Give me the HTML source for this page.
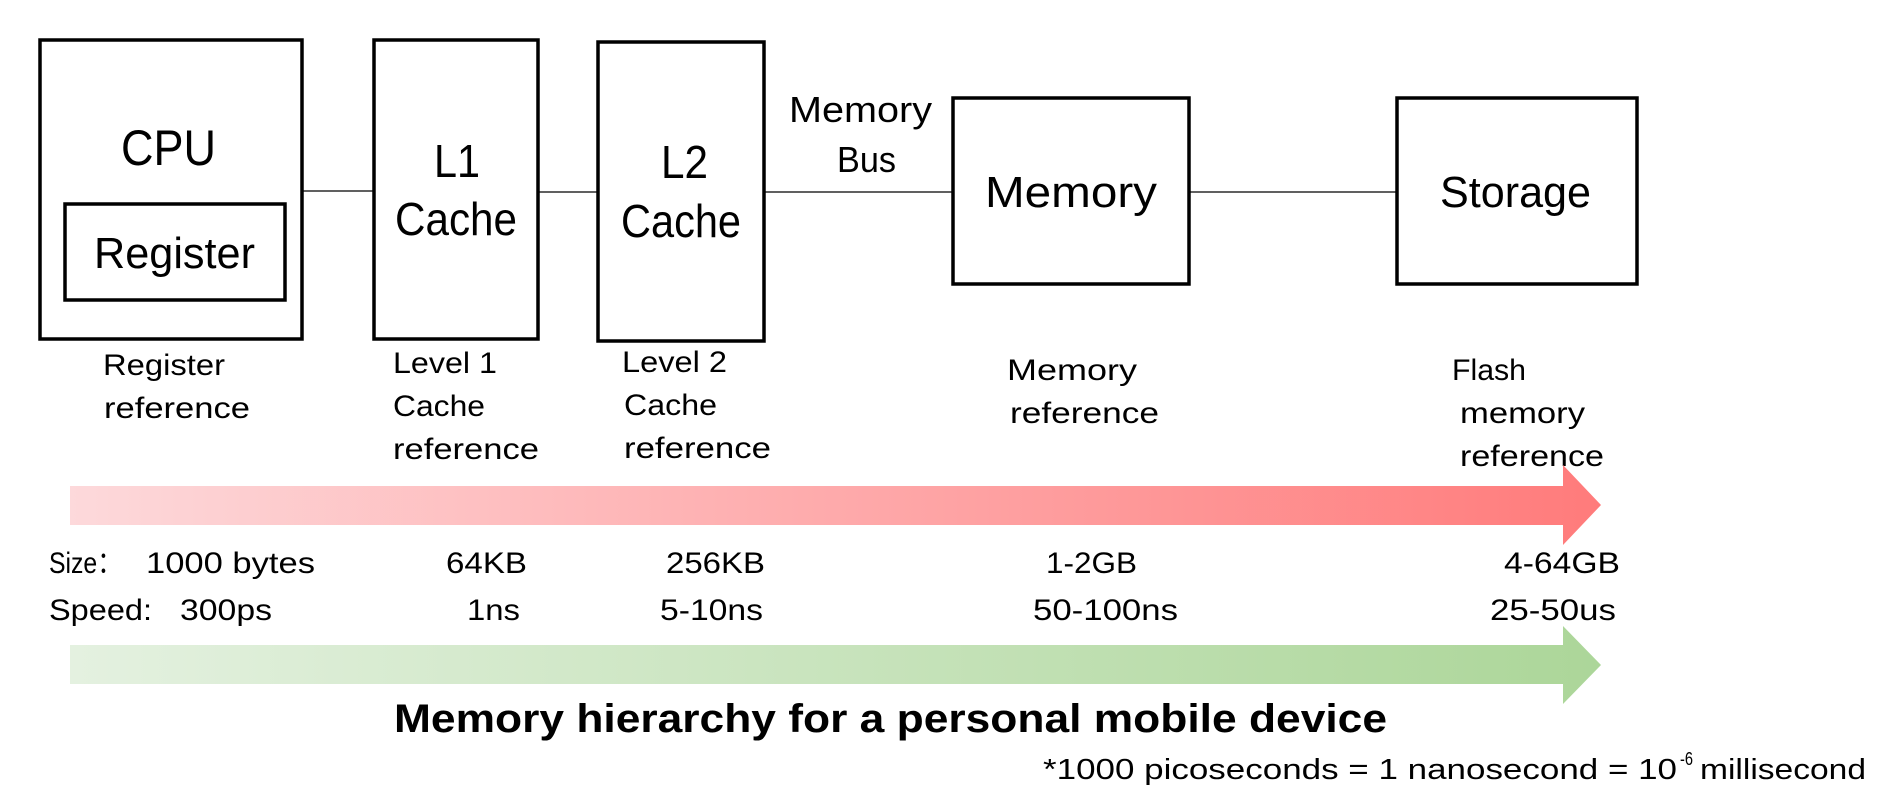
<!DOCTYPE html>
<html><head><meta charset="utf-8"><style>
html,body{margin:0;padding:0;background:#fff;}
svg{display:block;}
text{font-family:"Liberation Sans",Arial,sans-serif;fill:#000;}
</style></head><body>
<svg width="1904" height="800" viewBox="0 0 1904 800" xmlns="http://www.w3.org/2000/svg">
<defs>
<linearGradient id="r" x1="0" x2="1" y1="0" y2="0"><stop offset="0" stop-color="#fdd9db"/><stop offset="1" stop-color="#ff7b7b"/></linearGradient>
<linearGradient id="g" x1="0" x2="1" y1="0" y2="0"><stop offset="0" stop-color="#e4f1e0"/><stop offset="1" stop-color="#acd699"/></linearGradient>
</defs>
<g fill="none" stroke="#000" stroke-width="3.5">
<rect x="40" y="40" width="262" height="299"/>
<rect x="65" y="204" width="220" height="96"/>
<rect x="374" y="40" width="164" height="299"/>
<rect x="598" y="42" width="166" height="299"/>
<rect x="953" y="98" width="236" height="186"/>
<rect x="1397" y="98" width="240" height="186"/>
</g>
<g stroke="#000" stroke-width="1.3">
<line x1="302" y1="191" x2="374" y2="191"/>
<line x1="538" y1="192" x2="598" y2="192"/>
<line x1="764" y1="192" x2="953" y2="192"/>
<line x1="1189" y1="192" x2="1397" y2="192"/>
</g>
<text x="121" y="165" font-size="50" textLength="95" lengthAdjust="spacingAndGlyphs">CPU</text>
<text x="94" y="268" font-size="44" textLength="161" lengthAdjust="spacingAndGlyphs">Register</text>
<text x="434" y="177" font-size="46" textLength="46" lengthAdjust="spacingAndGlyphs">L1</text>
<text x="395" y="235" font-size="46" textLength="122" lengthAdjust="spacingAndGlyphs">Cache</text>
<text x="661" y="178" font-size="46" textLength="47" lengthAdjust="spacingAndGlyphs">L2</text>
<text x="621" y="237" font-size="46" textLength="120" lengthAdjust="spacingAndGlyphs">Cache</text>
<text x="789" y="122" font-size="36" textLength="143" lengthAdjust="spacingAndGlyphs">Memory</text>
<text x="837" y="172" font-size="36" textLength="59" lengthAdjust="spacingAndGlyphs">Bus</text>
<text x="985" y="207" font-size="44" textLength="172" lengthAdjust="spacingAndGlyphs">Memory</text>
<text x="1440" y="207" font-size="44" textLength="151" lengthAdjust="spacingAndGlyphs">Storage</text>

<g font-size="30">
<text x="103" y="375" textLength="122" lengthAdjust="spacingAndGlyphs">Register</text>
<text x="104" y="418" textLength="146" lengthAdjust="spacingAndGlyphs">reference</text>
<text x="393" y="373" textLength="104" lengthAdjust="spacingAndGlyphs">Level 1</text>
<text x="393" y="416" textLength="92" lengthAdjust="spacingAndGlyphs">Cache</text>
<text x="393" y="459" textLength="146" lengthAdjust="spacingAndGlyphs">reference</text>
<text x="622" y="372" textLength="105" lengthAdjust="spacingAndGlyphs">Level 2</text>
<text x="624" y="415" textLength="93" lengthAdjust="spacingAndGlyphs">Cache</text>
<text x="624" y="458" textLength="147" lengthAdjust="spacingAndGlyphs">reference</text>
<text x="1007" y="380" textLength="130" lengthAdjust="spacingAndGlyphs">Memory</text>
<text x="1010" y="423" textLength="149" lengthAdjust="spacingAndGlyphs">reference</text>
<text x="1452" y="380" textLength="74" lengthAdjust="spacingAndGlyphs">Flash</text>
<text x="1460" y="423" textLength="125" lengthAdjust="spacingAndGlyphs">memory</text>
<text x="1460" y="466" textLength="144" lengthAdjust="spacingAndGlyphs">reference</text>
</g>

<polygon points="70,486 1563,486 1563,465 1601,505 1563,545 1563,525 70,525" fill="url(#r)"/>
<polygon points="70,645 1563,645 1563,626 1601,665 1563,704 1563,684 70,684" fill="url(#g)"/>

<g font-size="30">
<text x="49" y="573" textLength="73" lengthAdjust="spacingAndGlyphs">Size：</text>
<text x="146" y="573" textLength="169" lengthAdjust="spacingAndGlyphs">1000 bytes</text>
<text x="446" y="573" textLength="81" lengthAdjust="spacingAndGlyphs">64KB</text>
<text x="666" y="573" textLength="99" lengthAdjust="spacingAndGlyphs">256KB</text>
<text x="1046" y="573" textLength="91" lengthAdjust="spacingAndGlyphs">1-2GB</text>
<text x="1504" y="573" textLength="116" lengthAdjust="spacingAndGlyphs">4-64GB</text>
<text x="49" y="620" textLength="103" lengthAdjust="spacingAndGlyphs">Speed:</text>
<text x="180" y="620" textLength="92" lengthAdjust="spacingAndGlyphs">300ps</text>
<text x="467" y="620" textLength="53" lengthAdjust="spacingAndGlyphs">1ns</text>
<text x="660" y="620" textLength="103" lengthAdjust="spacingAndGlyphs">5-10ns</text>
<text x="1033" y="620" textLength="145" lengthAdjust="spacingAndGlyphs">50-100ns</text>
<text x="1490" y="620" textLength="126" lengthAdjust="spacingAndGlyphs">25-50us</text>
</g>

<text x="394" y="732" font-size="40" font-weight="bold" textLength="993" lengthAdjust="spacingAndGlyphs">Memory hierarchy for a personal mobile device</text>

<text x="1043" y="779" font-size="29" textLength="634" lengthAdjust="spacingAndGlyphs">*1000 picoseconds = 1 nanosecond = 10</text>
<text x="1680" y="765" font-size="18" textLength="13" lengthAdjust="spacingAndGlyphs">-6</text>
<text x="1700" y="779" font-size="29" textLength="166" lengthAdjust="spacingAndGlyphs">millisecond</text>
</svg>
</body></html>
